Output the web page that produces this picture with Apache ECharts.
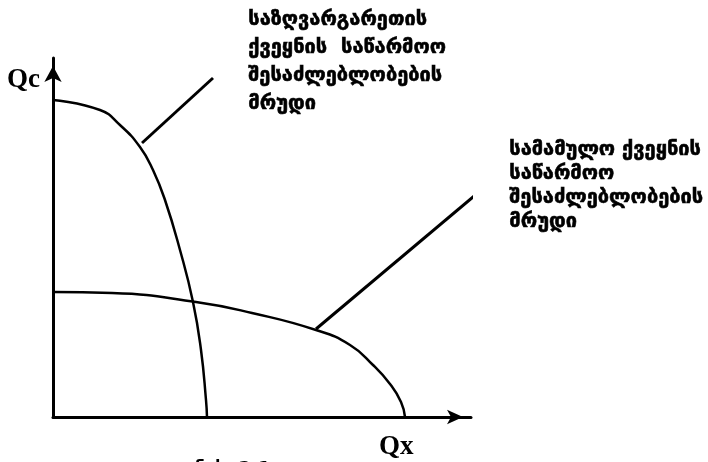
<!DOCTYPE html>
<html>
<head>
<meta charset="utf-8">
<style>
  html, body { margin: 0; padding: 0; background: #fff; }
  #chart { width: 708px; height: 462px; }
</style>
<script src="https://cdn.jsdelivr.net/npm/echarts@6/dist/echarts.min.js"></script>
</head>
<body>
<div id="chart"></div>
<script>
// curve points [Qx, Qc], units are arbitrary
var foreignCurve = [[0, 317], [47, 307], [67, 292], [87, 270], [100, 247], [112, 217], [127, 167], [140, 115], [148, 67], [153, 17], [154, 0]];
var domesticCurve = [[0, 125], [59, 124], [143, 115], [199, 104], [263, 87], [297, 72], [320, 52], [337, 33], [348, 15], [352, 0]];
// leader lines from the labels to the curves
var foreignPointer = [[89, 274], [160, 339]];
var domesticPointer = [[263, 88], [439, 236]];

var foreignLabel = ['საზღვარგარეთის', 'ქვეყნის  საწარმოო', 'შესაძლებლობების', 'მრუდი'];
var domesticLabel = ['სამამულო ქვეყნის', 'საწარმოო', 'შესაძლებლობების', 'მრუდი'];
var axisNames = ['Qx', 'Qc'];

var chart = echarts.init(document.getElementById('chart'));

var geo = 'DejaVu Sans';
var serif = 'Liberation Serif';

function lineSeries(data, width, smooth) {
    return {
        type: 'line',
        data: data,
        smooth: smooth,
        symbol: 'none',
        clip: false,
        silent: true,
        lineStyle: { color: '#000', width: width }
    };
}

var option = {
    backgroundColor: '#fff',
    animation: false,
    grid: { left: 53, top: 58, width: 418, height: 359 },
    xAxis: {
        type: 'value', min: 0, max: 418,
        axisLine: { show: true, lineStyle: { color: '#000', width: 3 }, symbol: ['none', 'arrow'], symbolSize: [11, 16], symbolOffset: [0, -8] },
        axisTick: { show: false }, axisLabel: { show: false }, splitLine: { show: false }
    },
    yAxis: {
        type: 'value', min: 0, max: 359,
        axisLine: { show: true, lineStyle: { color: '#000', width: 3 }, symbol: ['none', 'arrow'], symbolSize: [13, 16], symbolOffset: [0, -8] },
        axisTick: { show: false }, axisLabel: { show: false }, splitLine: { show: false }
    },
    graphic: [
        { type: 'text', left: 248, top: 6, style: { text: foreignLabel.join('\n'), font: 'bold 20px ' + geo, lineHeight: 28, fill: '#000', stroke: '#000', lineWidth: 0.6 } },
        { type: 'text', left: 509, top: 138, style: { text: domesticLabel.join('\n'), font: 'bold 20px ' + geo, lineHeight: 24, fill: '#000', stroke: '#000', lineWidth: 0.6 } },
        { type: 'text', left: 7, top: 67, style: { text: axisNames[1], font: 'bold 27px ' + serif, fill: '#000' } },
        { type: 'text', left: 379, top: 434, style: { text: axisNames[0], font: 'bold 27px ' + serif, fill: '#000' } },
        { type: 'text', left: 195, top: 460, style: { text: 'ნახ. 2.1', font: 'bold 18px ' + geo, fill: '#000' } }
    ],
    series: [
        lineSeries(foreignCurve, 2.5, 0.5),
        lineSeries(domesticCurve, 2.5, 0.5),
        lineSeries(foreignPointer, 3, false),
        lineSeries(domesticPointer, 3, false)
    ]
};

chart.setOption(option);
</script>
</body>
</html>
